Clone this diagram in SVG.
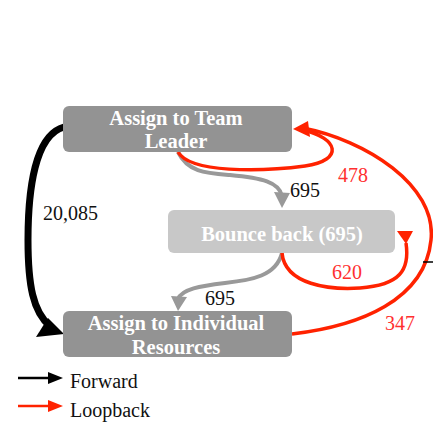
<svg xmlns="http://www.w3.org/2000/svg" width="433" height="427" viewBox="0 0 433 427">
<style>
.box{fill:#939393}
.box2{fill:#c8c8c8}
.nt{font-family:"Liberation Serif",serif;font-weight:bold;font-size:20.5px;fill:#ffffff;text-anchor:middle}
.lbl{font-family:"Liberation Serif",serif;font-size:20px;fill:#111}
.rl{font-family:"Liberation Serif",serif;font-size:20px;fill:#ff3030}
.red{fill:none;stroke:#ff2200;stroke-width:3.5}
.gray{fill:none;stroke:#999999;stroke-width:4}
.blk{fill:none;stroke:#000;stroke-width:7}
</style>
<rect width="433" height="427" fill="#fff"/>
<g id="connectors">
  <path class="blk" d="M64,127 C35,135 28,190 28,240 C28,285 33,312 50,326"/>
  <polygon points="48,318 64,334 36,337" fill="#000"/>
  <path class="gray" d="M178,152 C188,172 205,173 230,175 C262,178 279,182 282,196"/>
  <polygon points="274,192 290,193 282,208" fill="#999"/>
  <path class="gray" d="M282,253 C276,276 252,280 225,283 C200,286 182,289 178,299"/>
  <polygon points="171,296 187,297 178,311" fill="#999"/>
  <path class="red" d="M178,152 C190,173 260,172 305,166 C345,160 338,138 303,130"/>
  <path class="red" d="M292,334 C360,326 425,300 431,240 C437,185 365,140 303,128"/>
  <polygon points="293,129 308,121 310,137" fill="#ff2200"/>
  <path class="red" d="M282,253 C285,285 330,290 360,288 C400,285 410,270 406,243"/>
  <polygon points="397,231 413,231 406,244" fill="#ff2200"/>
  <line x1="423" y1="262" x2="433" y2="262" stroke="#000" stroke-width="1.5"/>
  <text class="lbl" x="43" y="220">20,085</text>
  <text class="lbl" x="290" y="197">695</text>
  <text class="lbl" x="205" y="305">695</text>
  <text class="rl" x="338" y="182">478</text>
  <text class="rl" x="332" y="279">620</text>
  <text class="rl" x="385" y="330">347</text>
</g>
<g id="team-leader">
  <rect class="box" x="63" y="106" width="229" height="46" rx="6"/>
  <text class="nt" x="176" y="125">Assign to Team</text>
  <text class="nt" x="176" y="148">Leader</text>
</g>
<g id="bounce-back">
  <rect class="box2" x="168" y="210" width="227" height="43" rx="6"/>
  <text class="nt" x="282" y="241">Bounce back (695)</text>
</g>
<g id="individual">
  <rect class="box" x="63" y="311" width="229" height="46" rx="6"/>
  <text class="nt" x="176" y="330">Assign to Individual</text>
  <text class="nt" x="176" y="354">Resources</text>
</g>
<g id="legend">
  <line x1="18" y1="378" x2="50" y2="378" stroke="#000" stroke-width="2.5"/>
  <polygon points="48,372 63,378 48,384" fill="#000"/>
  <text class="lbl" x="70" y="388">Forward</text>
  <line x1="18" y1="406" x2="50" y2="406" stroke="#ff2200" stroke-width="2.5"/>
  <polygon points="48,400 63,406 48,412" fill="#ff2200"/>
  <text class="lbl" x="70" y="417">Loopback</text>
</g>
</svg>
